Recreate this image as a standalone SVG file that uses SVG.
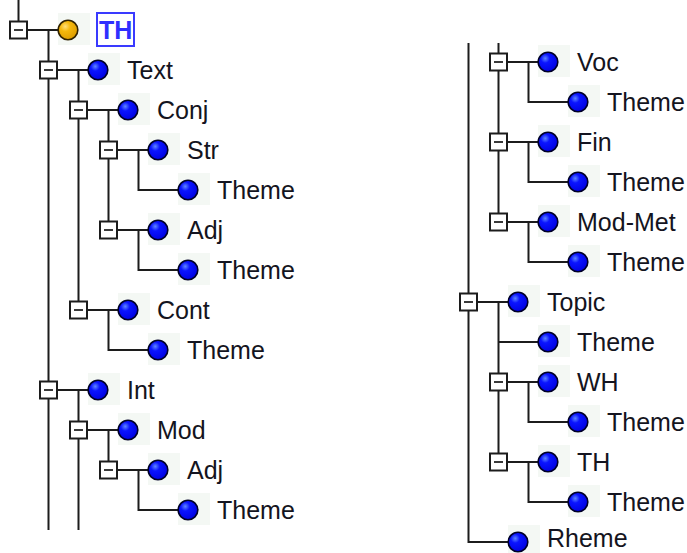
<svg xmlns="http://www.w3.org/2000/svg" width="687" height="553" viewBox="0 0 687 553">
<defs>
<radialGradient id="gb" cx="0.36" cy="0.32" r="0.72">
<stop offset="0" stop-color="#5f86ff"/>
<stop offset="0.32" stop-color="#0a14ff"/>
<stop offset="1" stop-color="#0000e0"/>
</radialGradient>
<radialGradient id="gg" cx="0.36" cy="0.32" r="0.72">
<stop offset="0" stop-color="#ffe07a"/>
<stop offset="0.35" stop-color="#f5b80c"/>
<stop offset="1" stop-color="#dc9c00"/>
</radialGradient>
<style>
.ln{fill:none;stroke:#1c1c1c;stroke-width:2}
.bx{fill:#fff;stroke:#1c1c1c;stroke-width:2}
.mn{stroke:#3a3a3a;stroke-width:2}
.bg{fill:#f4f8f4}
.c{fill:url(#gb);stroke:#000028;stroke-width:1.6}
.cg{fill:url(#gg);stroke:#302200;stroke-width:1.6}
.t{font-family:"Liberation Sans",Arial,sans-serif;font-size:25px;fill:#141420}
.th{font-family:"Liberation Sans",Arial,sans-serif;font-size:25px;font-weight:bold;fill:#2f2fff}
.sel{fill:#fff;stroke:#3a3aff;stroke-width:2}
</style>
</defs>
<rect width="687" height="553" fill="#fff"/>
<g id="connectors">
<path class="ln" d="M18.5 0V21.5"/>
<path class="ln" d="M48.5 30V530M78.5 70V310M108.5 110V230M78.5 390V530M108.5 430V470"/>
<path class="ln" d="M138.5 150V190H178.5M138.5 230V270H178.5M108.5 310V350H148.5M138.5 470V510H178.5"/>
<path class="ln" d="M18.5 30H58.5M48.5 70H88.5M78.5 110H118.5M108.5 150H148.5M108.5 230H148.5M78.5 310H118.5M48.5 390H88.5M78.5 430H118.5M108.5 470H148.5"/>
<path class="ln" d="M468.5 43V542H508.5M498.5 43V222M498.5 302V462"/>
<path class="ln" d="M528.5 62V102H568.5M528.5 142V182H568.5M528.5 222V262H568.5M498.5 342H538.5M528.5 382V422H568.5M528.5 462V502H568.5"/>
<path class="ln" d="M498.5 62H538.5M498.5 142H538.5M498.5 222H538.5M468.5 302H508.5M498.5 382H538.5M498.5 462H538.5"/>
</g>
<g id="n-TH-root">
<rect class="bx" x="10" y="21.5" width="17" height="17"/><line class="mn" x1="14" y1="30" x2="23" y2="30"/>
<rect class="bg" x="58" y="13" width="32" height="32"/>
<circle class="cg" cx="68" cy="30" r="9.8"/>
<rect class="sel" x="97" y="13" width="37" height="33"/>
<text class="th" x="99" y="39">TH</text>
</g>
<g id="n-Text">
<rect class="bx" x="40" y="61.5" width="17" height="17"/><line class="mn" x1="44" y1="70" x2="53" y2="70"/>
<rect class="bg" x="88" y="53" width="32" height="32"/>
<circle class="c" cx="98" cy="70" r="9.8"/>
<text class="t" x="127" y="79">Text</text>
</g>
<g id="n-Conj">
<rect class="bx" x="70" y="101.5" width="17" height="17"/><line class="mn" x1="74" y1="110" x2="83" y2="110"/>
<rect class="bg" x="118" y="93" width="32" height="32"/>
<circle class="c" cx="128" cy="110" r="9.8"/>
<text class="t" x="157" y="119">Conj</text>
</g>
<g id="n-Str">
<rect class="bx" x="100" y="141.5" width="17" height="17"/><line class="mn" x1="104" y1="150" x2="113" y2="150"/>
<rect class="bg" x="148" y="133" width="32" height="32"/>
<circle class="c" cx="158" cy="150" r="9.8"/>
<text class="t" x="187" y="159">Str</text>
</g>
<g id="n-Str-Theme">
<rect class="bg" x="178" y="173" width="32" height="32"/>
<circle class="c" cx="188" cy="190" r="9.8"/>
<text class="t" x="217" y="199">Theme</text>
</g>
<g id="n-Conj-Adj">
<rect class="bx" x="100" y="221.5" width="17" height="17"/><line class="mn" x1="104" y1="230" x2="113" y2="230"/>
<rect class="bg" x="148" y="213" width="32" height="32"/>
<circle class="c" cx="158" cy="230" r="9.8"/>
<text class="t" x="187" y="239">Adj</text>
</g>
<g id="n-Conj-Adj-Theme">
<rect class="bg" x="178" y="253" width="32" height="32"/>
<circle class="c" cx="188" cy="270" r="9.8"/>
<text class="t" x="217" y="279">Theme</text>
</g>
<g id="n-Cont">
<rect class="bx" x="70" y="301.5" width="17" height="17"/><line class="mn" x1="74" y1="310" x2="83" y2="310"/>
<rect class="bg" x="118" y="293" width="32" height="32"/>
<circle class="c" cx="128" cy="310" r="9.8"/>
<text class="t" x="157" y="319">Cont</text>
</g>
<g id="n-Cont-Theme">
<rect class="bg" x="148" y="333" width="32" height="32"/>
<circle class="c" cx="158" cy="350" r="9.8"/>
<text class="t" x="187" y="359">Theme</text>
</g>
<g id="n-Int">
<rect class="bx" x="40" y="381.5" width="17" height="17"/><line class="mn" x1="44" y1="390" x2="53" y2="390"/>
<rect class="bg" x="88" y="373" width="32" height="32"/>
<circle class="c" cx="98" cy="390" r="9.8"/>
<text class="t" x="127" y="399">Int</text>
</g>
<g id="n-Mod">
<rect class="bx" x="70" y="421.5" width="17" height="17"/><line class="mn" x1="74" y1="430" x2="83" y2="430"/>
<rect class="bg" x="118" y="413" width="32" height="32"/>
<circle class="c" cx="128" cy="430" r="9.8"/>
<text class="t" x="157" y="439">Mod</text>
</g>
<g id="n-Mod-Adj">
<rect class="bx" x="100" y="461.5" width="17" height="17"/><line class="mn" x1="104" y1="470" x2="113" y2="470"/>
<rect class="bg" x="148" y="453" width="32" height="32"/>
<circle class="c" cx="158" cy="470" r="9.8"/>
<text class="t" x="187" y="479">Adj</text>
</g>
<g id="n-Mod-Adj-Theme">
<rect class="bg" x="178" y="493" width="32" height="32"/>
<circle class="c" cx="188" cy="510" r="9.8"/>
<text class="t" x="217" y="519">Theme</text>
</g>
<g id="n-Voc">
<rect class="bx" x="490" y="53.5" width="17" height="17"/><line class="mn" x1="494" y1="62" x2="503" y2="62"/>
<rect class="bg" x="538" y="45" width="32" height="32"/>
<circle class="c" cx="548" cy="62" r="9.8"/>
<text class="t" x="577" y="71">Voc</text>
</g>
<g id="n-Voc-Theme">
<rect class="bg" x="568" y="85" width="32" height="32"/>
<circle class="c" cx="578" cy="102" r="9.8"/>
<text class="t" x="607" y="111">Theme</text>
</g>
<g id="n-Fin">
<rect class="bx" x="490" y="133.5" width="17" height="17"/><line class="mn" x1="494" y1="142" x2="503" y2="142"/>
<rect class="bg" x="538" y="125" width="32" height="32"/>
<circle class="c" cx="548" cy="142" r="9.8"/>
<text class="t" x="577" y="151">Fin</text>
</g>
<g id="n-Fin-Theme">
<rect class="bg" x="568" y="165" width="32" height="32"/>
<circle class="c" cx="578" cy="182" r="9.8"/>
<text class="t" x="607" y="191">Theme</text>
</g>
<g id="n-ModMet">
<rect class="bx" x="490" y="213.5" width="17" height="17"/><line class="mn" x1="494" y1="222" x2="503" y2="222"/>
<rect class="bg" x="538" y="205" width="32" height="32"/>
<circle class="c" cx="548" cy="222" r="9.8"/>
<text class="t" x="577" y="231">Mod-Met</text>
</g>
<g id="n-ModMet-Theme">
<rect class="bg" x="568" y="245" width="32" height="32"/>
<circle class="c" cx="578" cy="262" r="9.8"/>
<text class="t" x="607" y="271">Theme</text>
</g>
<g id="n-Topic">
<rect class="bx" x="460" y="293.5" width="17" height="17"/><line class="mn" x1="464" y1="302" x2="473" y2="302"/>
<rect class="bg" x="508" y="285" width="32" height="32"/>
<circle class="c" cx="518" cy="302" r="9.8"/>
<text class="t" x="547" y="311">Topic</text>
</g>
<g id="n-Topic-Theme">
<rect class="bg" x="538" y="325" width="32" height="32"/>
<circle class="c" cx="548" cy="342" r="9.8"/>
<text class="t" x="577" y="351">Theme</text>
</g>
<g id="n-WH">
<rect class="bx" x="490" y="373.5" width="17" height="17"/><line class="mn" x1="494" y1="382" x2="503" y2="382"/>
<rect class="bg" x="538" y="365" width="32" height="32"/>
<circle class="c" cx="548" cy="382" r="9.8"/>
<text class="t" x="577" y="391">WH</text>
</g>
<g id="n-WH-Theme">
<rect class="bg" x="568" y="405" width="32" height="32"/>
<circle class="c" cx="578" cy="422" r="9.8"/>
<text class="t" x="607" y="431">Theme</text>
</g>
<g id="n-TH">
<rect class="bx" x="490" y="453.5" width="17" height="17"/><line class="mn" x1="494" y1="462" x2="503" y2="462"/>
<rect class="bg" x="538" y="445" width="32" height="32"/>
<circle class="c" cx="548" cy="462" r="9.8"/>
<text class="t" x="577" y="471">TH</text>
</g>
<g id="n-TH-Theme">
<rect class="bg" x="568" y="485" width="32" height="32"/>
<circle class="c" cx="578" cy="502" r="9.8"/>
<text class="t" x="607" y="511">Theme</text>
</g>
<g id="n-Rheme">
<rect class="bg" x="508" y="525" width="32" height="28"/>
<circle class="c" cx="518" cy="542" r="9.8"/>
<text class="t" x="547" y="547">Rheme</text>
</g>
</svg>
